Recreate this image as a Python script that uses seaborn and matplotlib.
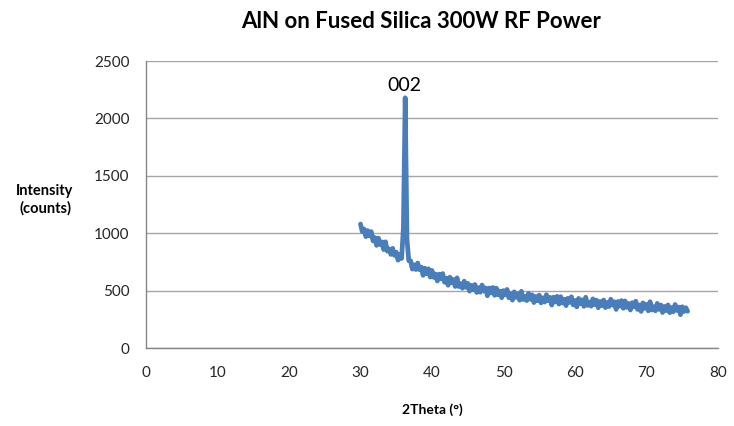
import numpy as np
import pandas as pd
import matplotlib
matplotlib.use("Agg")
import matplotlib.pyplot as plt
import seaborn as sns

# ---- data ----
theta_start = 30.0
theta_step = 0.25
intensity = [
    1080, 1013, 1036, 970, 1023, 976, 1014, 933, 961, 894, 957, 901,
    924, 857, 925, 844, 862, 815, 868, 807, 835, 765, 815, 780,
    1050, 2180, 950, 760,
    760, 687, 725, 683, 740, 682, 705, 633, 695, 647, 690, 618, 675,
    615, 644, 584, 644, 603, 648, 573, 608, 547, 617, 567, 596, 536, 611, 535, 560,
    521, 582, 528, 564, 495, 546, 507, 553, 484, 525, 486,
    548, 496, 523, 455, 522, 479, 527, 459, 521, 463, 496, 438, 500,
    462, 510, 437, 474, 417, 489, 441, 473, 416,
    494, 422, 450, 413, 476, 424, 463, 396, 449, 412, 460,
    393, 437, 400, 464, 412, 441, 374, 443, 401, 450, 383, 447,
    391, 425, 369, 433, 397, 446, 375, 414, 358, 432, 386, 419, 363, 442, 371, 400,
    364, 428, 378, 417, 351, 405, 369, 418, 352, 397, 361, 425,
    374, 403, 336, 405, 364, 413, 346, 410, 354, 388, 331, 395, 359, 408, 336, 375,
    319, 393, 346, 380, 324, 403, 331, 360, 324, 388, 336, 375,
    309, 362, 326, 375, 308, 352, 316, 379, 328, 357, 290, 359, 318, 351, 320,
]
two_theta = theta_start + theta_step * np.arange(len(intensity))

x_ticks = [0, 10, 20, 30, 40, 50, 60, 70, 80]
y_ticks = [0, 500, 1000, 1500, 2000, 2500]
title = "AlN on Fused Silica 300W RF Power"
peak_label = "002"
peak_pos = (36.1, 2290)

df = pd.DataFrame({"2Theta": two_theta, "Intensity": intensity})

sns.set_theme(style="white")
plt.rcParams["font.family"] = ["Lato", "DejaVu Sans"]

fig = plt.figure(figsize=(7.34, 4.26), dpi=100)
ax = fig.add_axes([146 / 734, 78 / 426, 572 / 734, 287 / 426])

sns.lineplot(data=df, x="2Theta", y="Intensity", ax=ax, color="#4A7EBB",
             linewidth=3.4, sort=False, estimator=None)

ax.set_xlim(0, 80)
ax.set_ylim(0, 2500)
ax.set_xticks(x_ticks)
ax.set_yticks(y_ticks)
ax.yaxis.grid(True, color="#a6a6a6", linewidth=1.0)
ax.xaxis.grid(False)
ax.set_axisbelow(True)

for s in ["top", "right"]:
    ax.spines[s].set_visible(False)
for s in ["left", "bottom"]:
    ax.spines[s].set_color("#868686")
    ax.spines[s].set_linewidth(1.0)

ax.tick_params(axis="both", which="major", direction="out", length=5, width=1,
               color="#868686", labelsize=11, labelcolor="#262626")
ax.tick_params(axis="x", pad=8)
ax.tick_params(axis="y", pad=7)

ax.set_xlabel("")
ax.set_ylabel("")
fig.text(432 / 734, 1 - 410 / 426, "2Theta (°)", ha="center", va="center",
         fontsize=10, fontweight="bold", color="#000000")
fig.text(45 / 734, 1 - 200 / 426, "Intensity\n(counts)", ha="center", va="center",
         fontsize=10.5, fontweight="bold", color="#000000", linespacing=1.3)
fig.text(421 / 734, 1 - 22 / 426, title, ha="center", va="center",
         fontsize=16, fontweight="bold", color="#000000")

ax.text(peak_pos[0], peak_pos[1], peak_label, ha="center", va="center",
        fontsize=14, color="#000000")

fig.savefig("out.png", dpi=100)
